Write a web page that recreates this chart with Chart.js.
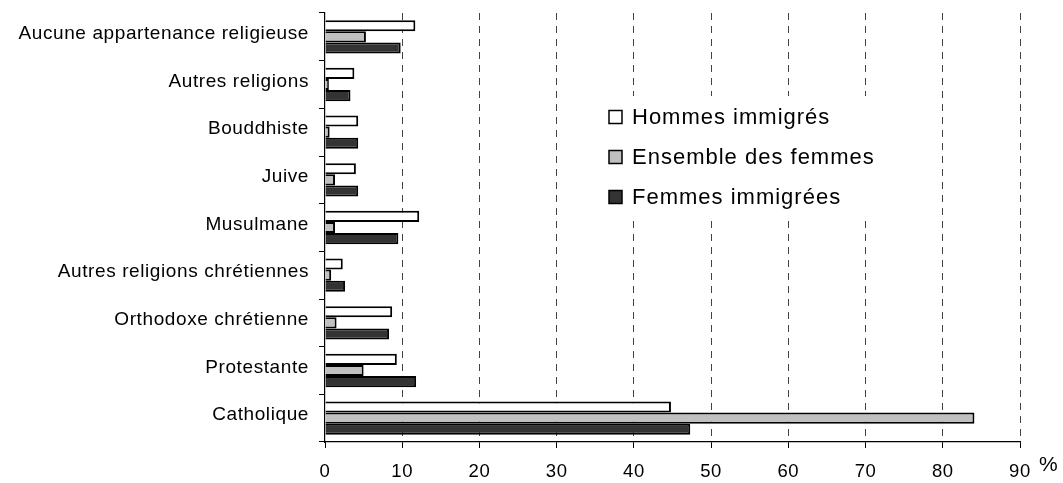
<!DOCTYPE html>
<html>
<head>
<meta charset="utf-8">
<script src="https://cdn.jsdelivr.net/npm/chart.js@4.4.0/dist/chart.umd.min.js"></script>
<style>
  html, body { margin: 0; padding: 0; background: #fff; }
  #wrap { width: 1063px; height: 483px; position: relative; }
</style>
</head>
<body>
<div id="wrap"><canvas id="c" width="1063" height="483"></canvas></div>
<script>
const categories = [
  "Aucune appartenance religieuse",
  "Autres religions",
  "Bouddhiste",
  "Juive",
  "Musulmane",
  "Autres religions chrétiennes",
  "Orthodoxe chrétienne",
  "Protestante",
  "Catholique"
];
const seriesNames = ["Hommes immigrés", "Ensemble des femmes", "Femmes immigrées"];
const hommesImmigres   = [11.7, 3.8, 4.3, 4.0, 12.2, 2.3, 8.7, 9.3, 44.8];
const ensembleFemmes   = [5.3, 0.5, 0.6, 1.3, 1.3, 0.8, 1.5, 5.0, 84.1];
const femmesImmigrees  = [9.8, 3.3, 4.3, 4.3, 9.5, 2.6, 8.3, 11.8, 47.3];
const xTicks = [0, 10, 20, 30, 40, 50, 60, 70, 80, 90];
const unitLabel = "%";

const colors = ["#ffffff", "#c0c0c0", "#333333"];
const FONT = "'Liberation Sans', Arial, sans-serif";

const spacingPlugin = {
  id: 'spacing',
  beforeDraw(chart) { chart.ctx.letterSpacing = '0.6px'; }
};

const extrasPlugin = {
  id: 'extras',
  afterDraw(chart) {
    const ctx = chart.ctx;
    const xs = chart.scales.x;
    ctx.save();
    // legend background box (hides gridlines)
    ctx.fillStyle = '#ffffff';
    ctx.fillRect(600, 96, 300, 122);
    ctx.letterSpacing = '1px';
    const boxX = 609, textX = 632;
    const rows = [117, 157, 197];
    chart.data.datasets.forEach((ds, i) => {
      const y = rows[i];
      ctx.fillStyle = ds.backgroundColor;
      ctx.fillRect(boxX, y - 6.5, 13, 13);
      ctx.strokeStyle = '#000';
      ctx.lineWidth = 1.5;
      ctx.strokeRect(boxX, y - 6.5, 13, 13);
      ctx.fillStyle = '#000';
      ctx.font = "22px " + FONT;
      ctx.textAlign = 'left';
      ctx.textBaseline = 'middle';
      ctx.fillText(ds.label, textX, y + 1);
    });
    ctx.font = "21px " + FONT;
    ctx.textAlign = 'left';
    ctx.textBaseline = 'middle';
    ctx.fillStyle = '#000';
    ctx.fillText(unitLabel, xs.getPixelForValue(90) + 19, 465);
    ctx.restore();
  }
};

const seriesData = [hommesImmigres, ensembleFemmes, femmesImmigrees];

new Chart(document.getElementById('c'), {
  type: 'bar',
  data: {
    labels: categories,
    datasets: seriesNames.map((name, i) => ({
      label: name,
      data: seriesData[i],
      backgroundColor: colors[i],
      borderColor: '#000',
      borderWidth: 2,
      categoryPercentage: 0.7,
      barPercentage: 1.0
    }))
  },
  options: {
    indexAxis: 'y',
    responsive: false,
    animation: false,
    devicePixelRatio: 1,
    layout: { padding: { top: 13, right: 43, left: 0, bottom: 0 } },
    plugins: {
      legend: { display: false },
      tooltip: { enabled: false }
    },
    scales: {
      x: {
        type: 'linear',
        min: 0, max: 90,
        afterFit(s) { s.height = 41; s.paddingLeft = 0; s.paddingRight = 0; },
        afterBuildTicks(s) { s.ticks = xTicks.map(v => ({ value: v })); },
        ticks: {
          color: '#000',
          font: { family: FONT, size: 18.5 },
          padding: 13,
          maxRotation: 0
        },
        grid: {
          color: (c) => (c.tick && c.tick.value === 0) ? 'rgba(0,0,0,0)' : '#444',
          lineWidth: 1,
          tickColor: '#000',
          tickLength: 6,
          tickBorderDash: []
        },
        border: { display: true, color: '#000', width: 1.2, dash: [7, 6] }
      },
      y: {
        type: 'category',
        afterFit(s) { s.width = 325; s.paddingTop = 0; s.paddingBottom = 0; },
        ticks: {
          color: '#000',
          font: { family: FONT, size: 19 },
          padding: 10,
          labelOffset: -3
        },
        grid: {
          display: true,
          drawOnChartArea: false,
          offset: true,
          color: '#000',
          tickLength: 6
        },
        border: { display: true, color: '#000', width: 1.2 }
      }
    }
  },
  plugins: [spacingPlugin, extrasPlugin]
});
</script>
</body>
</html>
